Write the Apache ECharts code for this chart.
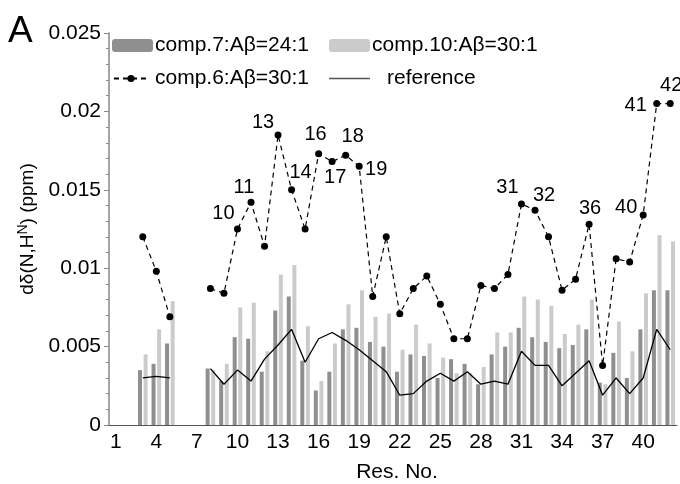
<!DOCTYPE html>
<html>
<head>
<meta charset="utf-8">
<script src="https://cdn.jsdelivr.net/npm/echarts@6/dist/echarts.min.js"></script>
<style>
  html, body { margin: 0; padding: 0; background: #fff; }
  #chart { width: 680px; height: 484px; }
</style>
</head>
<body>
<div id="chart"></div>
<script>
// residue numbers 1..42
const residues = Array.from({ length: 42 }, (_, i) => String(i + 1))

const comp7 = [null, null, 0.0035, 0.0039, 0.0052, null, null, 0.0036, 0.0028, 0.0056,
  0.0055, 0.0034, 0.0073, 0.0082, 0.0041, 0.0022, 0.0034, 0.0061, 0.0062, 0.0053,
  0.0050, 0.0034, 0.0045, 0.0044, 0.0030, 0.0042, 0.0039, 0.0026, 0.0045, 0.0050,
  0.0062, 0.0056, 0.0053, 0.0049, 0.0051, 0.0061, 0.0027, 0.0046, 0.0030, 0.0061,
  0.0086, 0.0086]

const comp10 = [null, null, 0.0045, 0.0061, 0.0079, null, null, 0.0035, 0.0039, 0.0075,
  0.0078, 0.0047, 0.0096, 0.0102, 0.0063, 0.0028, 0.0052, 0.0077, 0.0086, 0.0069,
  0.0071, 0.0048, 0.0064, 0.0052, 0.0043, 0.0033, 0.0033, 0.0037, 0.0059, 0.0059,
  0.0082, 0.0080, 0.0076, 0.0058, 0.0064, 0.0080, 0.0026, 0.0066, 0.0047, 0.0084,
  0.0121, 0.0117]

const comp6 = [null, null, 0.0120, 0.0098, 0.0069, null, null, 0.0087, 0.0084, 0.0125,
  0.0142, 0.0114, 0.0185, 0.0150, 0.0125, 0.0173, 0.0168, 0.0172, 0.0165, 0.0082,
  0.0120, 0.0071, 0.0087, 0.0095, 0.0077, 0.0055, 0.0055, 0.0089, 0.0087, 0.0096,
  0.0141, 0.0137, 0.0120, 0.0086, 0.0093, 0.0128, 0.0038, 0.0106, 0.0104, 0.0134,
  0.0205, 0.0205]

const reference = [null, null, 0.0030, 0.0031, 0.0030, null, null, 0.0036, 0.0026, 0.0035,
  0.0028, 0.0042, 0.0051, 0.0061, 0.0040, 0.0055, 0.0059, 0.0054, 0.0048, 0.0041,
  0.0034, 0.0019, 0.0020, 0.0028, 0.0033, 0.0028, 0.0034, 0.0026, 0.0028, 0.0026,
  0.0047, 0.0038, 0.0038, 0.0025, 0.0033, 0.0041, 0.0019, 0.0030, 0.0020, 0.0030,
  0.0061, 0.0048]

// residues labelled on the comp.6 line
const labelled = [10, 11, 13, 14, 16, 17, 18, 19, 31, 32, 36, 40, 41, 42]
// label offset from the point, in px
const labelOffset = {
  10: [-14, -16], 11: [-7, -15], 13: [-15, -12], 14: [9, -17], 16: [-3, -19],
  17: [3, 16], 18: [7, -19], 19: [17, 3], 31: [-14, -16], 32: [9, -15],
  36: [1, -16], 40: [-17, -7], 41: [-21, 2], 42: [1, -18]
}

const FONT = "Liberation Sans, Arial, sans-serif"

const comp6Data = comp6.map((v, i) => {
  const res = i + 1
  if (labelled.indexOf(res) < 0) return v
  return {
    value: v,
    label: {
      show: true,
      position: "inside",
      offset: labelOffset[res],
      formatter: String(res),
      color: "#000",
      fontSize: 20,
      fontFamily: FONT
    }
  }
})

const legendText = { fontSize: 21, color: "#000", padding: [0, 0, 0, -3] }

const chart = echarts.init(document.getElementById("chart"))
chart.setOption({
  animation: false,
  backgroundColor: "#fff",
  textStyle: { fontFamily: FONT },
  grid: { left: 109, right: 3, top: 33, bottom: 59, outerBoundsMode: "none", containLabel: false },
  graphic: [
    {
      type: "text",
      left: 8,
      top: 13,
      style: { text: "A", fontSize: 37, fontFamily: FONT, fill: "#000" }
    }
  ],
  legend: [
    {
      left: 107, top: 30, itemWidth: 41, itemHeight: 13,
      textStyle: legendText,
      data: ["comp.7:Aβ=24:1"]
    },
    {
      left: 324, top: 30, itemWidth: 41, itemHeight: 13,
      textStyle: legendText,
      data: ["comp.10:Aβ=30:1"]
    },
    {
      left: 108, top: 63, itemWidth: 34, itemHeight: 9,
      textStyle: { fontSize: 21, color: "#000", padding: [0, 0, 0, 2] },
      data: ["comp.6:Aβ=30:1"]
    },
    {
      left: 324, top: 63, itemWidth: 41, itemHeight: 1.5,
      textStyle: { fontSize: 21, color: "#000", padding: [0, 0, 0, 12] },
      data: [{ name: "reference", icon: "rect", itemStyle: { color: "#555" } }]
    }
  ],
  xAxis: {
    type: "category",
    data: residues,
    name: "Res. No.",
    nameLocation: "middle",
    nameGap: 37,
    nameTextStyle: { fontSize: 21, color: "#000", padding: [0, 0, 0, 8] },
    axisLine: { lineStyle: { color: "#555", width: 1 } },
    axisTick: { interval: 0, length: 4, lineStyle: { color: "#555" } },
    axisLabel: { interval: 2, fontSize: 21, color: "#000", margin: 7 },
    splitLine: { show: false }
  },
  yAxis: {
    type: "value",
    min: 0,
    max: 0.025,
    interval: 0.005,
    name: "{n|dδ(N,H}{sup|N}{n|) (ppm)}",
    nameLocation: "middle",
    nameGap: 69,
    nameRotate: 90,
    nameTextStyle: {
      color: "#000",
      rich: {
        n: { fontSize: 19, color: "#000", fontFamily: FONT },
        sup: { fontSize: 14, color: "#000", fontFamily: FONT, padding: [0, 0, 9, 0] }
      }
    },
    axisLine: { show: true, lineStyle: { color: "#888", width: 1.5 } },
    axisTick: { show: true, length: 5, lineStyle: { color: "#888" } },
    minorTick: { show: true, splitNumber: 5, length: 3, lineStyle: { color: "#888" } },
    axisLabel: {
      fontSize: 21,
      color: "#000",
      margin: 8,
      formatter: v => (v === 0 ? "0" : String(+v.toFixed(3)))
    },
    splitLine: { show: false }
  },
  series: [
    {
      name: "comp.7:Aβ=24:1",
      type: "bar",
      data: comp7,
      barWidth: 4,
      barGap: "40%",
      itemStyle: { color: "#8f8f8f" }
    },
    {
      name: "comp.10:Aβ=30:1",
      type: "bar",
      data: comp10,
      barWidth: 4,
      itemStyle: { color: "#cbcbcb" }
    },
    {
      name: "comp.6:Aβ=30:1",
      type: "line",
      data: comp6Data,
      connectNulls: false,
      symbol: "circle",
      symbolSize: 7,
      itemStyle: { color: "#000" },
      lineStyle: { color: "#000", width: 1.2, type: [5, 4] },
      z: 5
    },
    {
      name: "reference",
      type: "line",
      data: reference,
      connectNulls: false,
      symbol: "none",
      itemStyle: { color: "#555" },
      lineStyle: { color: "#000", width: 1.3 },
      z: 4
    }
  ]
})
</script>
</body>
</html>
